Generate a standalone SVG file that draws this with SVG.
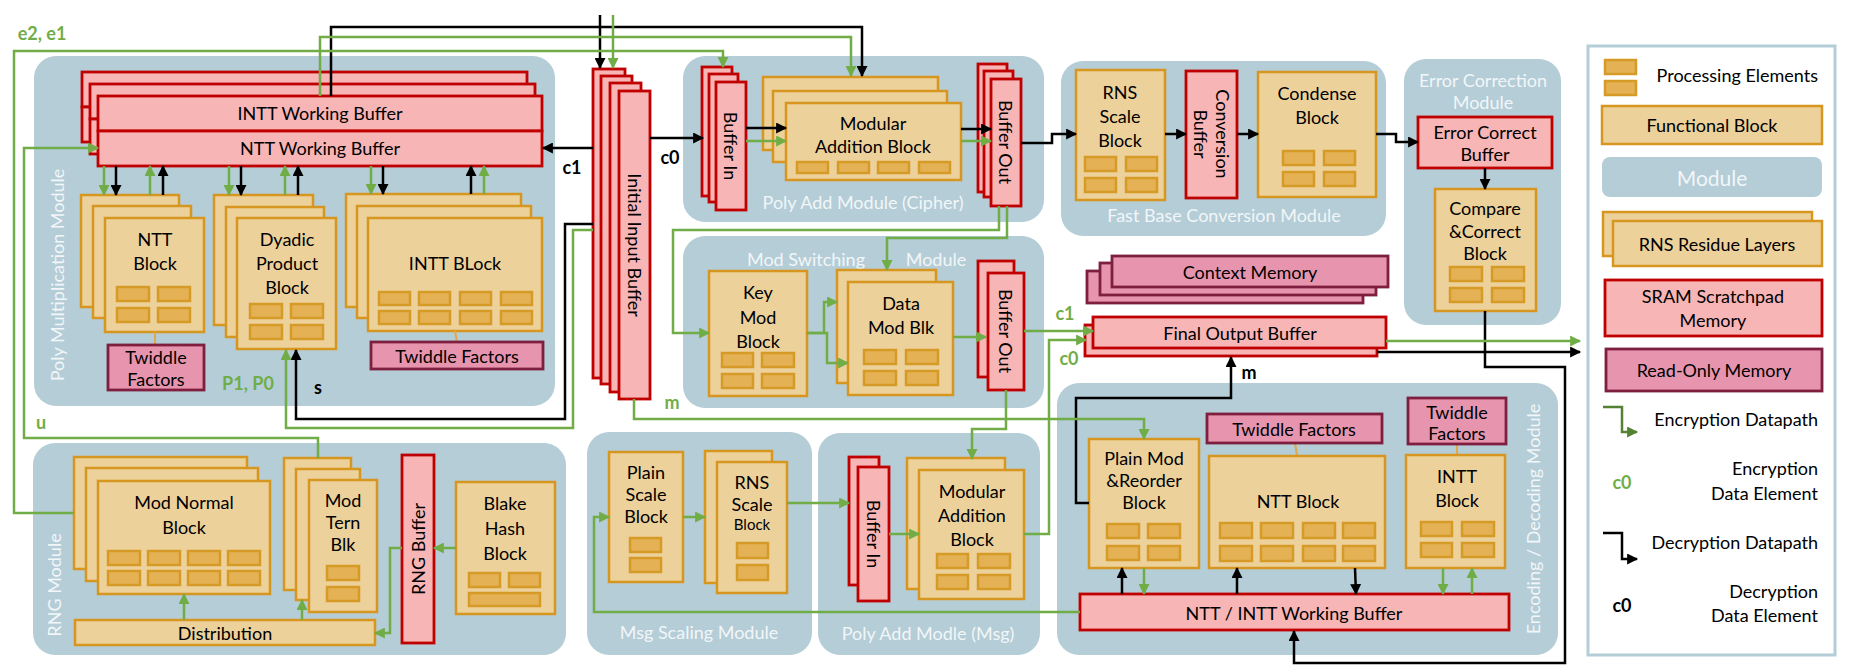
<svg xmlns="http://www.w3.org/2000/svg" width="1857" height="672" viewBox="0 0 1857 672">
<defs>
<style>
text{font-family:Lato,"Liberation Sans",sans-serif}
.mod{fill:#b4cdd7}
.fb{fill:#edd19b;stroke:#d6961f;stroke-width:2.5}
.pe{fill:#e4b155;stroke:#d69a27;stroke-width:2.5}
.sr{fill:#f7b5b5;stroke:#c00000;stroke-width:2.8}
.ro{fill:#e795ae;stroke:#7f1f3f;stroke-width:2.8}
.tw{stroke:#e0a848;stroke-width:2;fill:none}
.t{font-size:18px;fill:#000;text-anchor:middle;dominant-baseline:central}
.ml{font-size:18px;fill:#f2f6f8;text-anchor:middle;dominant-baseline:central}
.lg{font-size:18px;fill:#000;text-anchor:end;dominant-baseline:central}
.lbg{font-size:18px;font-weight:bold;fill:#70ad47;text-anchor:middle;dominant-baseline:central}
.lbk{font-size:18px;font-weight:bold;fill:#000;text-anchor:middle;dominant-baseline:central}
.g{fill:none;stroke:#70ad47;stroke-width:2.5}
.k{fill:none;stroke:#000;stroke-width:2.5}
.ga{marker-end:url(#ag)}
.ka{marker-end:url(#ak)}
</style>
<marker id="ag" viewBox="0 0 10 10" refX="9" refY="5" markerWidth="12" markerHeight="11" markerUnits="userSpaceOnUse" orient="auto"><path d="M0,0L10,5L0,10z" fill="#70ad47"/></marker>
<marker id="ak" viewBox="0 0 10 10" refX="9" refY="5" markerWidth="12" markerHeight="11" markerUnits="userSpaceOnUse" orient="auto"><path d="M0,0L10,5L0,10z" fill="#000"/></marker>
<marker id="al" viewBox="0 0 10 10" refX="9" refY="5" markerWidth="12" markerHeight="11" markerUnits="userSpaceOnUse" orient="auto"><path d="M0,0L10,5L0,10z" fill="#548235"/></marker>
</defs>
<rect width="1857" height="672" fill="#fff"/>

<!-- Modules -->
<g id="poly-mult-module">
<rect class="mod" x="34" y="56" width="521" height="350" rx="22"/>
<text class="ml" transform="translate(57,275) rotate(-90)">Poly Multiplication Module</text>
</g>
<g id="poly-add-cipher-module">
<rect class="mod" x="683" y="56" width="361" height="166" rx="22"/>
<text class="ml" x="863" y="202">Poly Add Module (Cipher)</text>
</g>
<g id="fast-base-conv-module">
<rect class="mod" x="1061" y="61" width="325" height="175" rx="22"/>
<text class="ml" x="1224" y="215">Fast Base Conversion Module</text>
</g>
<g id="error-correction-module">
<rect class="mod" x="1404" y="59" width="157" height="266" rx="22"/>
<text class="ml" x="1483" y="80">Error Correction</text>
<text class="ml" x="1483" y="102">Module</text>
</g>
<g id="mod-switching-module">
<rect class="mod" x="683" y="236" width="361" height="172" rx="22"/>
<text class="ml" x="806" y="259">Mod Switching</text>
<text class="ml" x="936" y="259">Module</text>
</g>
<g id="rng-module">
<rect class="mod" x="33" y="443" width="533" height="212" rx="22"/>
<text class="ml" transform="translate(54,585) rotate(-90)">RNG Module</text>
</g>
<g id="msg-scaling-module">
<rect class="mod" x="587" y="432" width="225" height="223" rx="22"/>
<text class="ml" x="699" y="632">Msg Scaling Module</text>
</g>
<g id="poly-add-msg-module">
<rect class="mod" x="818" y="433" width="222" height="222" rx="22"/>
<text class="ml" x="928" y="633">Poly Add Modle (Msg)</text>
</g>
<g id="encoding-module">
<rect class="mod" x="1057" y="383" width="501" height="272" rx="22"/>
<text class="ml" transform="translate(1533,519) rotate(-90)">Encoding / Decoding Module</text>
</g>

<!-- Poly multiplication contents -->
<g id="ntt-working-buffer">
<rect class="sr" x="82" y="72" width="445" height="35"/><rect class="sr" x="82" y="107" width="445" height="35"/>
<rect class="sr" x="90" y="84" width="445" height="35"/><rect class="sr" x="90" y="119" width="445" height="35"/>
<rect class="sr" x="98" y="96" width="444" height="35"/><rect class="sr" x="98" y="131" width="444" height="35"/>
<text class="t" x="320" y="113">INTT Working Buffer</text>
<text class="t" x="320" y="148">NTT Working Buffer</text>
</g>
<g id="ntt-block-pm">
<rect class="fb" x="81" y="195" width="98" height="112"/>
<rect class="fb" x="93" y="206" width="98" height="112"/>
<rect class="fb" x="105" y="218" width="99" height="114"/>
<text class="t" x="155" y="239">NTT</text><text class="t" x="155" y="263">Block</text>
<rect class="pe" x="117" y="287" width="32" height="14"/><rect class="pe" x="158" y="287" width="32" height="14"/>
<rect class="pe" x="117" y="308" width="32" height="14"/><rect class="pe" x="158" y="308" width="32" height="14"/>
</g>
<g id="twiddle-pm-ntt">
<line class="tw" x1="155" y1="332" x2="155" y2="345"/>
<rect class="ro" x="108" y="345" width="96" height="45"/>
<text class="t" x="156" y="357">Twiddle</text><text class="t" x="156" y="379">Factors</text>
</g>
<g id="dyadic-block">
<rect class="fb" x="214" y="195" width="99" height="130"/>
<rect class="fb" x="226" y="207" width="98" height="130"/>
<rect class="fb" x="237" y="218" width="99" height="131"/>
<text class="t" x="287" y="239">Dyadic</text><text class="t" x="287" y="263">Product</text><text class="t" x="287" y="287">Block</text>
<rect class="pe" x="250" y="304" width="32" height="14"/><rect class="pe" x="291" y="304" width="32" height="14"/>
<rect class="pe" x="250" y="325" width="32" height="14"/><rect class="pe" x="291" y="325" width="32" height="14"/>
</g>
<g id="intt-block-pm">
<rect class="fb" x="346" y="194" width="175" height="113"/>
<rect class="fb" x="357" y="206" width="174" height="112"/>
<rect class="fb" x="368" y="218" width="174" height="113"/>
<text class="t" x="455" y="263">INTT BLock</text>
<rect class="pe" x="379" y="292" width="31" height="13"/><rect class="pe" x="419" y="292" width="31" height="13"/><rect class="pe" x="460" y="292" width="31" height="13"/><rect class="pe" x="501" y="292" width="31" height="13"/>
<rect class="pe" x="379" y="311" width="31" height="13"/><rect class="pe" x="419" y="311" width="31" height="13"/><rect class="pe" x="460" y="311" width="31" height="13"/><rect class="pe" x="501" y="311" width="31" height="13"/>
</g>
<g id="twiddle-pm-intt">
<line class="tw" x1="455" y1="331" x2="457" y2="342"/>
<rect class="ro" x="371" y="342" width="172" height="27"/>
<text class="t" x="457" y="356">Twiddle Factors</text>
</g>

<!-- Initial input buffer -->
<g id="initial-input-buffer">
<rect class="sr" x="593" y="69" width="32" height="309"/>
<rect class="sr" x="601" y="76" width="31" height="308"/>
<rect class="sr" x="610" y="83" width="31" height="309"/>
<rect class="sr" x="619" y="91" width="31" height="308"/>
<text class="t" transform="translate(635,245) rotate(90)">Initial Input Buffer</text>
</g>

<!-- Poly add cipher -->
<g id="buffer-in-cipher">
<rect class="sr" x="702" y="67" width="30" height="129"/>
<rect class="sr" x="709" y="74" width="29" height="128"/>
<rect class="sr" x="716" y="82" width="30" height="128"/>
<text class="t" transform="translate(731,146) rotate(90)">Buffer In</text>
</g>
<g id="mod-add-cipher">
<rect class="fb" x="763" y="77" width="175" height="73"/>
<rect class="fb" x="773" y="91" width="174" height="71"/>
<rect class="fb" x="786" y="103" width="175" height="77"/>
<text class="t" x="873" y="123">Modular</text><text class="t" x="873" y="146">Addition Block</text>
<rect class="pe" x="797" y="162" width="31" height="11"/><rect class="pe" x="838" y="162" width="31" height="11"/><rect class="pe" x="878" y="162" width="31" height="11"/><rect class="pe" x="919" y="162" width="31" height="11"/>
</g>
<g id="buffer-out-cipher">
<rect class="sr" x="978" y="64" width="29" height="128"/>
<rect class="sr" x="984" y="71" width="29" height="126"/>
<rect class="sr" x="991" y="79" width="30" height="127"/>
<text class="t" transform="translate(1006,142) rotate(90)">Buffer Out</text>
</g>

<!-- Fast base conversion -->
<g id="rns-scale-fbc">
<rect class="fb" x="1076" y="70" width="89" height="130"/>
<text class="t" x="1120" y="92">RNS</text><text class="t" x="1120" y="116">Scale</text><text class="t" x="1120" y="140">Block</text>
<rect class="pe" x="1085" y="157" width="31" height="14"/><rect class="pe" x="1126" y="157" width="31" height="14"/>
<rect class="pe" x="1085" y="178" width="31" height="14"/><rect class="pe" x="1126" y="178" width="31" height="14"/>
</g>
<g id="conversion-buffer">
<rect class="sr" x="1186" y="71" width="51" height="127"/>
<text class="t" transform="translate(1211.5,134) rotate(90)"><tspan x="0" y="-11">Conversion</tspan><tspan x="0" y="11">Buffer</tspan></text>
</g>
<g id="condense-block">
<rect class="fb" x="1258" y="72" width="118" height="125"/>
<text class="t" x="1317" y="93">Condense</text><text class="t" x="1317" y="117">Block</text>
<rect class="pe" x="1283" y="151" width="31" height="14"/><rect class="pe" x="1324" y="151" width="31" height="14"/>
<rect class="pe" x="1283" y="172" width="31" height="14"/><rect class="pe" x="1324" y="172" width="31" height="14"/>
</g>

<!-- Error correction -->
<g id="error-correct-buffer">
<rect class="sr" x="1418" y="117" width="134" height="51"/>
<text class="t" x="1485" y="132">Error Correct</text><text class="t" x="1485" y="154">Buffer</text>
</g>
<g id="compare-correct-block">
<rect class="fb" x="1435" y="189" width="101" height="122"/>
<text class="t" x="1485" y="208">Compare</text><text class="t" x="1485" y="231">&amp;Correct</text><text class="t" x="1485" y="253">Block</text>
<rect class="pe" x="1450" y="267" width="32" height="14"/><rect class="pe" x="1492" y="267" width="32" height="14"/>
<rect class="pe" x="1450" y="288" width="32" height="14"/><rect class="pe" x="1492" y="288" width="32" height="14"/>
</g>

<!-- Mod switching -->
<g id="key-mod-block">
<rect class="fb" x="709" y="271" width="98" height="125"/>
<text class="t" x="758" y="292">Key</text><text class="t" x="758" y="317">Mod</text><text class="t" x="758" y="341">Block</text>
<rect class="pe" x="722" y="353" width="31" height="14"/><rect class="pe" x="762" y="353" width="32" height="14"/>
<rect class="pe" x="722" y="374" width="31" height="14"/><rect class="pe" x="762" y="374" width="32" height="14"/>
</g>
<g id="data-mod-block">
<rect class="fb" x="837" y="270" width="99" height="113"/>
<rect class="fb" x="848" y="282" width="105" height="113"/>
<text class="t" x="901" y="303">Data</text><text class="t" x="901" y="327">Mod Blk</text>
<rect class="pe" x="864" y="350" width="32" height="14"/><rect class="pe" x="906" y="350" width="32" height="14"/>
<rect class="pe" x="864" y="371" width="32" height="14"/><rect class="pe" x="906" y="371" width="32" height="14"/>
</g>
<g id="buffer-out-ms">
<rect class="sr" x="978" y="261" width="36" height="116"/>
<rect class="sr" x="988" y="273" width="36" height="117"/>
<text class="t" transform="translate(1006,331) rotate(90)">Buffer Out</text>
</g>

<!-- Memories -->
<g id="context-memory">
<rect class="ro" x="1087" y="271" width="276" height="32"/>
<rect class="ro" x="1100" y="263" width="276" height="32"/>
<rect class="ro" x="1112" y="256" width="276" height="31"/>
<text class="t" x="1250" y="272">Context Memory</text>
</g>
<g id="final-output-buffer">
<rect class="sr" x="1085" y="325" width="292" height="31"/>
<rect class="sr" x="1093" y="317" width="293" height="31"/>
<text class="t" x="1240" y="333">Final Output Buffer</text>
</g>

<!-- RNG -->
<g id="mod-normal-block">
<rect class="fb" x="74" y="457" width="173" height="112"/>
<rect class="fb" x="86" y="468" width="172" height="113"/>
<rect class="fb" x="98" y="481" width="172" height="113"/>
<text class="t" x="184" y="502">Mod Normal</text><text class="t" x="184" y="527">Block</text>
<rect class="pe" x="108" y="551" width="32" height="14"/><rect class="pe" x="148" y="551" width="32" height="14"/><rect class="pe" x="188" y="551" width="32" height="14"/><rect class="pe" x="228" y="551" width="32" height="14"/>
<rect class="pe" x="108" y="571" width="32" height="14"/><rect class="pe" x="148" y="571" width="32" height="14"/><rect class="pe" x="188" y="571" width="32" height="14"/><rect class="pe" x="228" y="571" width="32" height="14"/>
</g>
<g id="mod-tern-block">
<rect class="fb" x="284" y="458" width="67" height="132"/>
<rect class="fb" x="296" y="469" width="64" height="131"/>
<rect class="fb" x="309" y="480" width="68" height="132"/>
<text class="t" x="343" y="500">Mod</text><text class="t" x="343" y="522">Tern</text><text class="t" x="343" y="544">Blk</text>
<rect class="pe" x="327" y="566" width="32" height="14"/><rect class="pe" x="327" y="587" width="32" height="14"/>
</g>
<g id="rng-buffer">
<rect class="sr" x="402" y="455" width="32" height="188"/>
<text class="t" transform="translate(418,549) rotate(-90)">RNG Buffer</text>
</g>
<g id="blake-hash-block">
<rect class="fb" x="456" y="482" width="99" height="132"/>
<text class="t" x="505" y="503">Blake</text><text class="t" x="505" y="528">Hash</text><text class="t" x="505" y="553">Block</text>
<rect class="pe" x="469" y="573" width="31" height="14"/><rect class="pe" x="509" y="573" width="31" height="14"/>
<rect class="pe" x="469" y="593" width="71" height="13"/>
</g>
<g id="distribution">
<rect class="fb" x="75" y="620" width="300" height="25"/>
<text class="t" x="225" y="633">Distribution</text>
</g>

<!-- Msg scaling -->
<g id="plain-scale-block">
<rect class="fb" x="609" y="452" width="74" height="130"/>
<text class="t" x="646" y="472">Plain</text><text class="t" x="646" y="494">Scale</text><text class="t" x="646" y="516">Block</text>
<rect class="pe" x="630" y="538" width="31" height="14"/><rect class="pe" x="630" y="558" width="31" height="14"/>
</g>
<g id="rns-scale-msg">
<rect class="fb" x="705" y="451" width="67" height="132"/>
<rect class="fb" x="717" y="462" width="70" height="131"/>
<text class="t" x="752" y="482">RNS</text><text class="t" x="752" y="504">Scale</text><text class="t" x="752" y="524" style="font-size:15px">Block</text>
<rect class="pe" x="737" y="543" width="31" height="15"/><rect class="pe" x="737" y="565" width="31" height="15"/>
</g>

<!-- Poly add msg -->
<g id="buffer-in-msg">
<rect class="sr" x="849" y="457" width="30" height="128"/>
<rect class="sr" x="858" y="467" width="31" height="134"/>
<text class="t" transform="translate(874,534) rotate(90)">Buffer In</text>
</g>
<g id="mod-add-msg">
<rect class="fb" x="907" y="458" width="98" height="131"/>
<rect class="fb" x="919" y="470" width="105" height="129"/>
<text class="t" x="972" y="491">Modular</text><text class="t" x="972" y="515">Addition</text><text class="t" x="972" y="539">Block</text>
<rect class="pe" x="937" y="554" width="31" height="14"/><rect class="pe" x="978" y="554" width="32" height="14"/>
<rect class="pe" x="937" y="575" width="31" height="14"/><rect class="pe" x="978" y="575" width="32" height="14"/>
</g>

<!-- Encoding / decoding -->
<g id="plain-mod-reorder">
<rect class="fb" x="1089" y="439" width="110" height="129"/>
<text class="t" x="1144" y="458">Plain Mod</text><text class="t" x="1144" y="480">&amp;Reorder</text><text class="t" x="1144" y="502">Block</text>
<rect class="pe" x="1107" y="524" width="32" height="14"/><rect class="pe" x="1148" y="524" width="32" height="14"/>
<rect class="pe" x="1107" y="546" width="32" height="14"/><rect class="pe" x="1148" y="546" width="32" height="14"/>
</g>
<g id="twiddle-enc-ntt">
<line class="tw" x1="1295" y1="443" x2="1297" y2="456"/>
<rect class="ro" x="1207" y="414" width="175" height="29"/>
<text class="t" x="1294" y="429">Twiddle Factors</text>
</g>
<g id="ntt-block-enc">
<rect class="fb" x="1209" y="456" width="176" height="112"/>
<text class="t" x="1298" y="501">NTT Block</text>
<rect class="pe" x="1220" y="523" width="32" height="15"/><rect class="pe" x="1261" y="523" width="32" height="15"/><rect class="pe" x="1303" y="523" width="32" height="15"/><rect class="pe" x="1343" y="523" width="32" height="15"/>
<rect class="pe" x="1220" y="546" width="32" height="15"/><rect class="pe" x="1261" y="546" width="32" height="15"/><rect class="pe" x="1303" y="546" width="32" height="15"/><rect class="pe" x="1343" y="546" width="32" height="15"/>
</g>
<g id="twiddle-enc-intt">
<line class="tw" x1="1457" y1="444" x2="1457" y2="455"/>
<rect class="ro" x="1408" y="398" width="98" height="46"/>
<text class="t" x="1457" y="412">Twiddle</text><text class="t" x="1457" y="433">Factors</text>
</g>
<g id="intt-block-enc">
<rect class="fb" x="1406" y="455" width="99" height="113"/>
<text class="t" x="1457" y="476">INTT</text><text class="t" x="1457" y="500">Block</text>
<rect class="pe" x="1421" y="522" width="31" height="14"/><rect class="pe" x="1462" y="522" width="32" height="14"/>
<rect class="pe" x="1421" y="543" width="31" height="14"/><rect class="pe" x="1462" y="543" width="32" height="14"/>
</g>
<g id="ntt-intt-working-buffer">
<rect class="sr" x="1080" y="594" width="429" height="36"/>
<text class="t" x="1294" y="613">NTT / INTT Working Buffer</text>
</g>

<!-- Connectors -->
<g id="connectors">
<!-- decryption (black) -->
<path class="k ka" d="M600,15V68"/>
<path class="k ka" d="M331,96V27H862V76"/>
<path class="k ka" d="M593,148H543"/>
<path class="k ka" d="M650,138H703"/>
<path class="k ka" d="M746,128H786"/>
<path class="k ka" d="M961,129H991"/>
<path class="k ka" d="M1021,143H1052V134H1076"/>
<path class="k ka" d="M1165,134H1186"/>
<path class="k ka" d="M1237,134H1258"/>
<path class="k ka" d="M1376,134H1396V142H1418"/>
<path class="k ka" d="M1485,168V189"/>
<path class="k ka" d="M1485,311V367H1565V663H1294V631"/>
<path class="k ka" d="M1089,503H1076V398H1231V357"/>
<path class="k ka" d="M1377,352H1580"/>
<path class="k ka" d="M593,224H565V419H296V350"/>
<path class="k ka" d="M116,166V195"/>
<path class="k ka" d="M241,166V195"/>
<path class="k ka" d="M383,166V194"/>
<path class="k ka" d="M163,195V166"/>
<path class="k ka" d="M298,195V166"/>
<path class="k ka" d="M471,194V166"/>
<path class="k ka" d="M1122,594V568"/>
<path class="k ka" d="M1237,594V568"/>
<path class="k ka" d="M1355,568L1356,594"/>
<!-- encryption (green) -->
<path class="g ga" d="M613,15V68"/>
<path class="g ga" d="M320,96V37H851V76"/>
<path class="g ga" d="M74,513H14V51H723V67"/>
<path class="g ga" d="M318,458V438H24V148H98"/>
<path class="g ga" d="M593,230H573V428H286V350"/>
<path class="g ga" d="M746,141H786"/>
<path class="g ga" d="M961,141H991"/>
<path class="g ga" d="M999,206V230H673V333H709"/>
<path class="g ga" d="M1007,206V238H887V270"/>
<path class="g ga" d="M807,333H824V302H837"/>
<path class="g ga" d="M807,333H827V363H848"/>
<path class="g ga" d="M953,337H986"/>
<path class="g ga" d="M1024,331H1093"/>
<path class="g ga" d="M1006,390V429H972V459"/>
<path class="g ga" d="M634,399V419H1144V439"/>
<path class="g ga" d="M1024,534H1049V340H1086"/>
<path class="g ga" d="M1386,341H1580"/>
<path class="g ga" d="M1080,612H594V517H609"/>
<path class="g ga" d="M683,517H705"/>
<path class="g ga" d="M787,503H849"/>
<path class="g ga" d="M889,534H919"/>
<path class="g ga" d="M104,166V195"/>
<path class="g ga" d="M229,166V195"/>
<path class="g ga" d="M371,166V194"/>
<path class="g ga" d="M150,195V166"/>
<path class="g ga" d="M285,195V166"/>
<path class="g ga" d="M484,194V166"/>
<path class="g ga" d="M1144,568V594"/>
<path class="g ga" d="M1443,568V594"/>
<path class="g ga" d="M1472,594V568"/>
<path class="g ga" d="M456,548H434"/>
<path class="g ga" d="M402,548H390V633H375"/>
<path class="g ga" d="M184,620V594"/>
<path class="g ga" d="M302,620V600"/>
</g>

<!-- Data element labels -->
<g id="labels">
<text class="lbg" x="42" y="33">e2, e1</text>
<text class="lbg" x="41" y="422">u</text>
<text class="lbg" x="248" y="383">P1, P0</text>
<text class="lbk" x="318" y="387">s</text>
<text class="lbk" x="572" y="167">c1</text>
<text class="lbk" x="670" y="157">c0</text>
<text class="lbg" x="672" y="402">m</text>
<text class="lbg" x="1065" y="313">c1</text>
<text class="lbg" x="1069" y="358">c0</text>
<text class="lbk" x="1249" y="372">m</text>
</g>

<!-- Legend -->
<g id="legend">
<rect x="1588" y="46" width="247" height="609" fill="#fff" stroke="#b4cdd7" stroke-width="3"/>
<rect class="pe" x="1605" y="60" width="31" height="14"/><rect class="pe" x="1605" y="81" width="31" height="14"/>
<text class="lg" x="1818" y="75">Processing Elements</text>
<rect class="fb" x="1602" y="106" width="220" height="38"/>
<text class="t" x="1712" y="125">Functional Block</text>
<rect class="mod" x="1602" y="157" width="220" height="40" rx="8"/>
<text class="ml" x="1712" y="177" style="font-size:21px">Module</text>
<rect class="fb" x="1603" y="212" width="209" height="44"/>
<rect class="fb" x="1613" y="221" width="209" height="45"/>
<text class="t" x="1717" y="244">RNS Residue Layers</text>
<rect class="sr" x="1605" y="280" width="217" height="56"/>
<text class="t" x="1713" y="296">SRAM Scratchpad</text><text class="t" x="1713" y="320">Memory</text>
<rect class="ro" x="1606" y="349" width="216" height="42"/>
<text class="t" x="1714" y="370">Read-Only Memory</text>
<path d="M1603,407H1622V432H1637" fill="none" stroke="#548235" stroke-width="2.5" marker-end="url(#al)"/>
<text class="lg" x="1818" y="419">Encryption Datapath</text>
<text class="lbg" x="1622" y="482">c0</text>
<text class="lg" x="1818" y="468">Encryption</text>
<text class="lg" x="1818" y="493">Data Element</text>
<path class="k ka" d="M1603,533H1622V559H1637"/>
<text class="lg" x="1818" y="542">Decryption Datapath</text>
<text class="lbk" x="1622" y="605">c0</text>
<text class="lg" x="1818" y="591">Decryption</text>
<text class="lg" x="1818" y="615">Data Element</text>
</g>
</svg>
